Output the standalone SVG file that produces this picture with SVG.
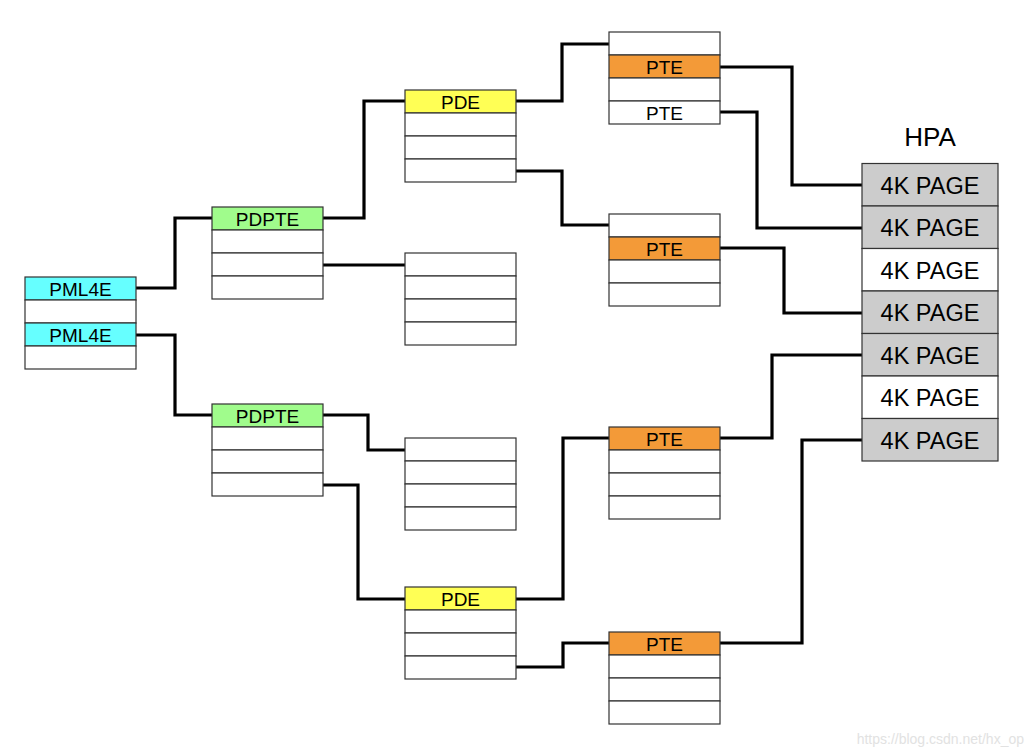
<svg xmlns="http://www.w3.org/2000/svg" width="1036" height="756" viewBox="0 0 1036 756">
<style>
.tb rect{stroke:#333;stroke-width:1.2}
.w{fill:#fff}.c{fill:#6ff}.g{fill:#a0fc8c}.y{fill:#ffff55}.o{fill:#f39a38}.h{fill:#ccc}
text{font-family:"Liberation Sans",Arial,sans-serif;fill:#000;text-anchor:middle}
.t{font-size:19px}.p{font-size:23.5px}
.cn polyline{fill:none;stroke:#000;stroke-width:3.2;stroke-linejoin:miter}
</style>
<rect x="0" y="0" width="1036" height="756" fill="#fff"/>
<g class="cn" id="connectors">
<polyline points="136,288 175,288 175,218 212,218"/>
<polyline points="136,335 175,335 175,415 212,415"/>
<polyline points="323,218 364,218 364,101 405,101"/>
<polyline points="323,265 405,265"/>
<polyline points="516,101 562,101 562,44 609,44"/>
<polyline points="516,171 562,171 562,225 609,225"/>
<polyline points="720,67 792,67 792,185 862,185"/>
<polyline points="720,112 757,112 757,228 862,228"/>
<polyline points="720,248 784,248 784,313 862,313"/>
<polyline points="323,415 368,415 368,450 405,450"/>
<polyline points="323,485 358,485 358,599 405,599"/>
<polyline points="516,599 563,599 563,438 609,438"/>
<polyline points="516,667 563,667 563,643 609,643"/>
<polyline points="720,438 772,438 772,355 862,355"/>
<polyline points="720,643 802,643 802,440 862,440"/>
</g>
<g id="pml4e" class="tb">
<rect class="c" x="25" y="277" width="111" height="23"/>
<rect class="w" x="25" y="300" width="111" height="23"/>
<rect class="c" x="25" y="323" width="111" height="23"/>
<rect class="w" x="25" y="346" width="111" height="23"/>
<text class="t" x="80.5" y="295.5">PML4E</text>
<text class="t" x="80.5" y="341.5">PML4E</text>
</g>
<g id="pdpte1" class="tb">
<rect class="g" x="212" y="207" width="111" height="23"/>
<rect class="w" x="212" y="230" width="111" height="23"/>
<rect class="w" x="212" y="253" width="111" height="23"/>
<rect class="w" x="212" y="276" width="111" height="23"/>
<text class="t" x="267.5" y="225.5">PDPTE</text>
</g>
<g id="pdpte2" class="tb">
<rect class="g" x="212" y="404" width="111" height="23"/>
<rect class="w" x="212" y="427" width="111" height="23"/>
<rect class="w" x="212" y="450" width="111" height="23"/>
<rect class="w" x="212" y="473" width="111" height="23"/>
<text class="t" x="267.5" y="422.5">PDPTE</text>
</g>
<g id="pde1" class="tb">
<rect class="y" x="405" y="90" width="111" height="23"/>
<rect class="w" x="405" y="113" width="111" height="23"/>
<rect class="w" x="405" y="136" width="111" height="23"/>
<rect class="w" x="405" y="159" width="111" height="23"/>
<text class="t" x="460.5" y="108.5">PDE</text>
</g>
<g id="pd_empty1" class="tb">
<rect class="w" x="405" y="253" width="111" height="23"/>
<rect class="w" x="405" y="276" width="111" height="23"/>
<rect class="w" x="405" y="299" width="111" height="23"/>
<rect class="w" x="405" y="322" width="111" height="23"/>
</g>
<g id="pd_empty2" class="tb">
<rect class="w" x="405" y="438" width="111" height="23"/>
<rect class="w" x="405" y="461" width="111" height="23"/>
<rect class="w" x="405" y="484" width="111" height="23"/>
<rect class="w" x="405" y="507" width="111" height="23"/>
</g>
<g id="pde2" class="tb">
<rect class="y" x="405" y="587" width="111" height="23"/>
<rect class="w" x="405" y="610" width="111" height="23"/>
<rect class="w" x="405" y="633" width="111" height="23"/>
<rect class="w" x="405" y="656" width="111" height="23"/>
<text class="t" x="460.5" y="605.5">PDE</text>
</g>
<g id="pte1" class="tb">
<rect class="w" x="609" y="32" width="111" height="23"/>
<rect class="o" x="609" y="55" width="111" height="23"/>
<rect class="w" x="609" y="78" width="111" height="23"/>
<rect class="w" x="609" y="101" width="111" height="23"/>
<text class="t" x="664.5" y="73.5">PTE</text>
<text class="t" x="664.5" y="119.5">PTE</text>
</g>
<g id="pte2" class="tb">
<rect class="w" x="609" y="214" width="111" height="23"/>
<rect class="o" x="609" y="237" width="111" height="23"/>
<rect class="w" x="609" y="260" width="111" height="23"/>
<rect class="w" x="609" y="283" width="111" height="23"/>
<text class="t" x="664.5" y="255.5">PTE</text>
</g>
<g id="pte3" class="tb">
<rect class="o" x="609" y="427" width="111" height="23"/>
<rect class="w" x="609" y="450" width="111" height="23"/>
<rect class="w" x="609" y="473" width="111" height="23"/>
<rect class="w" x="609" y="496" width="111" height="23"/>
<text class="t" x="664.5" y="445.5">PTE</text>
</g>
<g id="pte4" class="tb">
<rect class="o" x="609" y="632" width="111" height="23"/>
<rect class="w" x="609" y="655" width="111" height="23"/>
<rect class="w" x="609" y="678" width="111" height="23"/>
<rect class="w" x="609" y="701" width="111" height="23"/>
<text class="t" x="664.5" y="650.5">PTE</text>
</g>
<g id="hpa" class="tb">
<text x="930" y="146" style="font-size:26px">HPA</text>
<rect class="h" x="862" y="163.5" width="136" height="42.5"/>
<rect class="h" x="862" y="206" width="136" height="42.5"/>
<rect class="w" x="862" y="248.5" width="136" height="42.5"/>
<rect class="h" x="862" y="291" width="136" height="42.5"/>
<rect class="h" x="862" y="333.5" width="136" height="42.5"/>
<rect class="w" x="862" y="376" width="136" height="42.5"/>
<rect class="h" x="862" y="418.5" width="136" height="42.5"/>
<text class="p" x="930" y="193.5">4K PAGE</text>
<text class="p" x="930" y="236">4K PAGE</text>
<text class="p" x="930" y="278.5">4K PAGE</text>
<text class="p" x="930" y="321">4K PAGE</text>
<text class="p" x="930" y="363.5">4K PAGE</text>
<text class="p" x="930" y="406">4K PAGE</text>
<text class="p" x="930" y="448.5">4K PAGE</text>
</g>
<text x="1024" y="744" style="font-size:14px;text-anchor:end;fill:#e2e2e2">https://blog.csdn.net/hx_op</text>
</svg>
